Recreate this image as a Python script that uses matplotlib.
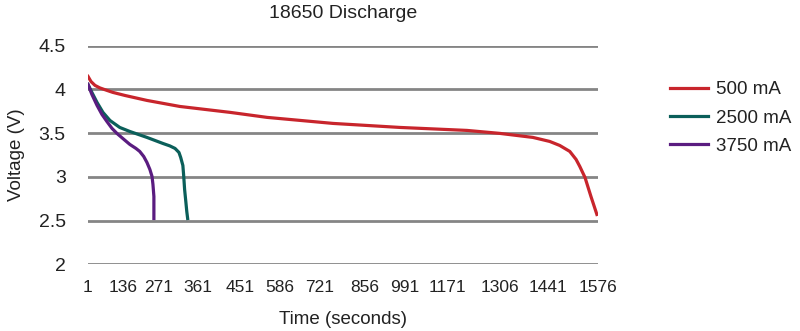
import numpy as np
import matplotlib
matplotlib.use("Agg")
import matplotlib.pyplot as plt

plt.rcParams['font.family'] = ['Liberation Sans', 'DejaVu Sans']

tick_secs = [1, 136, 271, 361, 451, 586, 721, 856, 991, 1171, 1306, 1441, 1576]
tick_labels = [str(t) for t in tick_secs]

t500 = [1, 12.6, 28, 47, 74, 97, 143.5, 226, 319, 430, 542, 760, 974, 1222, 1306,
        1399, 1446, 1473, 1500, 1517, 1527, 1541, 1557, 1573]
v500 = [4.149, 4.09, 4.046, 4.017, 3.989, 3.966, 3.931, 3.874, 3.805, 3.737, 3.68,
        3.611, 3.565, 3.531, 3.497, 3.451, 3.405, 3.359, 3.291, 3.199, 3.119, 2.993,
        2.776, 2.57]

t2500 = [1, 16, 36, 59, 86, 124, 162, 226, 280, 296, 308, 317, 321, 326, 328, 330,
         333, 335, 337]
v2500 = [4.057, 3.966, 3.851, 3.737, 3.645, 3.565, 3.519, 3.451, 3.382, 3.354, 3.325,
         3.279, 3.222, 3.130, 3.005, 2.856, 2.707, 2.604, 2.524]

t3750 = [1, 16, 36, 55, 74, 94, 113, 140, 162, 185, 199, 214, 226, 237, 245, 248.5,
         252, 252, 252]
v3750 = [4.057, 3.943, 3.817, 3.714, 3.634, 3.554, 3.497, 3.428, 3.371, 3.325, 3.291,
         3.233, 3.165, 3.085, 3.005, 2.913, 2.776, 2.65, 2.524]

series = [("500 mA", t500, v500, "#c8252c"),
          ("2500 mA", t2500, v2500, "#0b5f5a"),
          ("3750 mA", t3750, v3750, "#5a1c80")]

# label slot positions along the axis (layout of the original category axis)
slot_pos = [0, 0.82, 1.67, 2.59, 3.58, 4.52, 5.46, 6.52, 7.46, 8.45, 9.69, 10.82, 12]

def fwd(x):
    return np.interp(x, tick_secs, slot_pos)

def inv(u):
    return np.interp(u, slot_pos, tick_secs)

fig = plt.figure(figsize=(8, 3.31), dpi=100)
ax = fig.add_axes([0.11, 0.2015, 0.6375, 0.6605])
ax.set_xscale('function', functions=(fwd, inv))

for name, t, v, c in series:
    ax.plot(t, v, color=c, lw=2.3, label=name, solid_joinstyle='round')

ax.set_xlim(1, 1576)
ax.set_ylim(2, 4.5)
ax.set_xticks(tick_secs)
ax.set_xticklabels(tick_labels)
ax.set_yticks([2, 2.5, 3, 3.5, 4, 4.5])
ax.set_yticklabels(['2', '2.5', '3', '3.5', '4', '4.5'])
ax.minorticks_off()
ax.grid(axis='y', color='#858585', lw=2)
ax.set_axisbelow(True)
for s in ax.spines.values():
    s.set_visible(False)
ax.tick_params(length=0, labelsize=12.5, colors='#222222')
ax.tick_params(axis='x', pad=11)
ax.tick_params(axis='y', pad=16, labelsize=14)

ax.set_title("18650 Discharge", fontsize=14, color='#222222', pad=20)
ax.set_xlabel("Time (seconds)", fontsize=13.5, color='#222222', labelpad=11.5)
ax.set_ylabel("Voltage (V)", fontsize=13.5, color='#222222', labelpad=10)

leg = fig.legend(loc='upper left', bbox_to_anchor=(0.838, 0.755), frameon=False,
                 fontsize=13.5, handlelength=2.0, handletextpad=0.45, labelspacing=0.6,
                 labelcolor='#222222', borderaxespad=0, borderpad=0)

fig.savefig("out.png", dpi=100)
